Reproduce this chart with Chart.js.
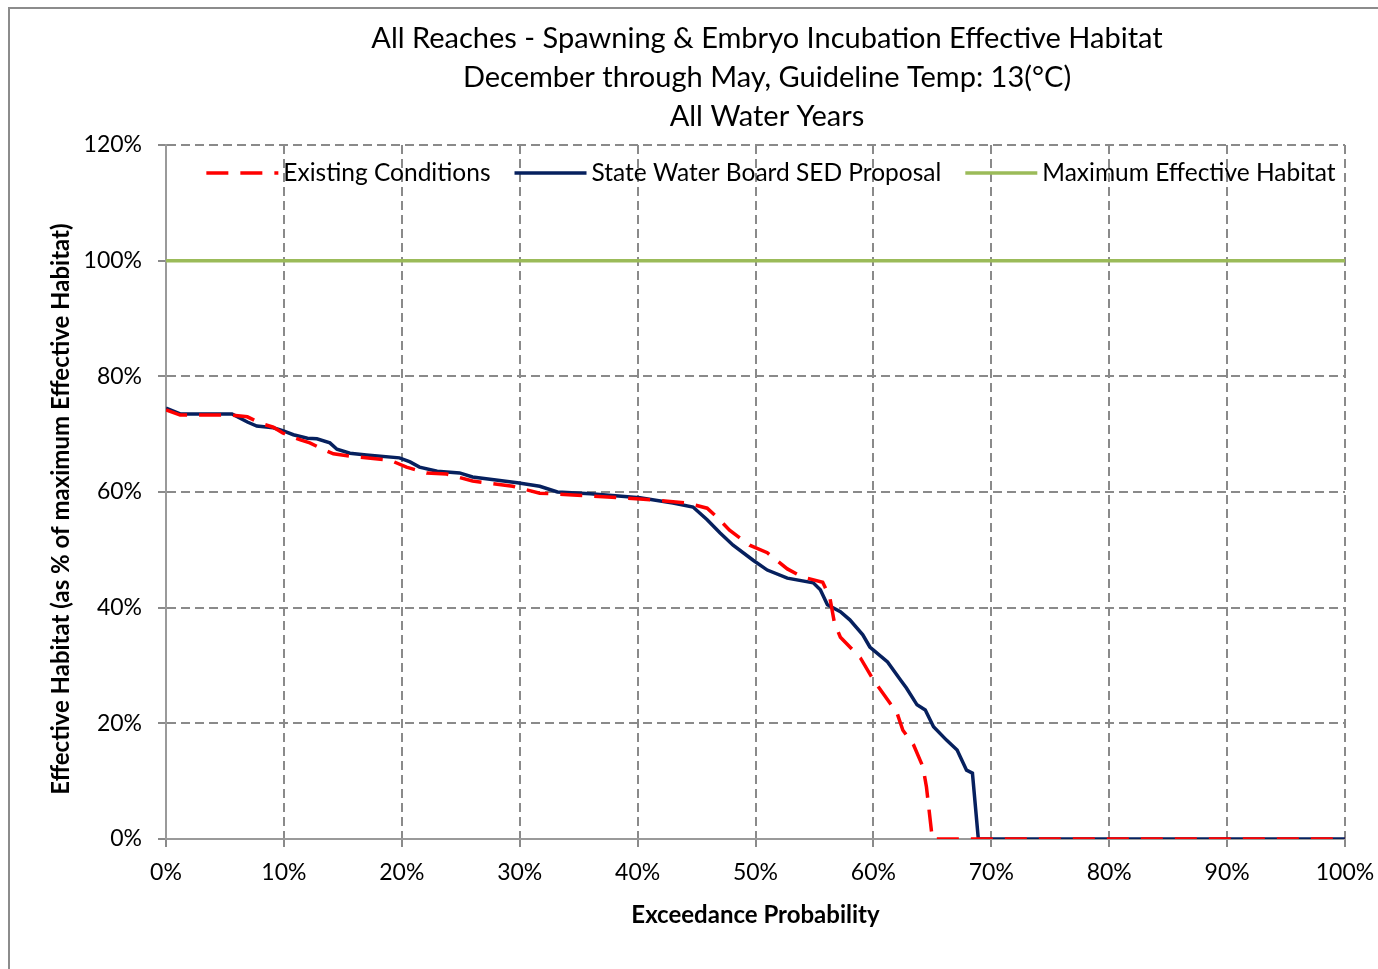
<!DOCTYPE html>
<html lang="en">
<head>
    <meta charset="UTF-8">
    <title>All Reaches - Spawning & Embryo Incubation Effective Habitat</title>
    <script src="https://cdn.jsdelivr.net/npm/chart.js@4.4.0/dist/chart.umd.min.js"></script>
    <style>
        body { margin: 0; background: #fff; }
        #wrap { position: relative; width: 1378px; height: 969px; }
    </style>
</head>
<body>
    <div id="wrap"><canvas id="habitat-chart"></canvas></div>

    <script>
        // Exceedance probability (%) and effective habitat (% of max)
        const existingX = [0, 1.2, 5.6, 6.9, 8, 9.1, 9.9, 11.4, 12.2, 13.3, 14.2, 15.6, 19, 20.4, 22.1, 23.8, 26, 29.4, 31.7, 34.5, 40.2, 44.2, 45.9, 46.7, 47.8, 49.5, 51, 51.8, 52.7, 54, 55.7, 56.3, 56.7, 57.2, 58.9, 60, 61.4, 62, 62.5, 63.4, 64.2, 64.5, 65, 100];
        const existingY = [74.2, 73.3, 73.3, 73, 71.9, 71.2, 70.2, 69, 68.5, 67.4, 66.6, 66.2, 65.5, 64.3, 63.3, 63.1, 61.9, 61, 59.8, 59.5, 58.8, 58.1, 57.2, 55.7, 53.4, 50.8, 49.5, 48.2, 46.7, 45.3, 44.4, 41.8, 37.3, 34.9, 31.3, 27.5, 23.5, 21.8, 18.8, 16.3, 12.5, 9, 0, 0];

        const sedX = [0, 1.2, 5.6, 6.9, 7.7, 9.1, 9.9, 10.8, 12, 12.8, 13.9, 14.5, 15.6, 17, 19.8, 20.7, 21.5, 23, 24.9, 26, 29.8, 31.7, 33.2, 36, 40.2, 43, 44.7, 45.9, 47, 48.1, 49.8, 51, 52.7, 54.9, 55.5, 56.1, 57.2, 58, 59.1, 59.7, 61.2, 62.3, 62.8, 63.7, 64.4, 65.1, 66.2, 67.1, 67.9, 68.4, 68.9, 100];
        const sedY = [74.5, 73.5, 73.5, 72.1, 71.4, 71.1, 70.6, 69.9, 69.3, 69.2, 68.5, 67.4, 66.7, 66.4, 65.9, 65.2, 64.3, 63.6, 63.3, 62.6, 61.6, 61, 60, 59.7, 59, 58.1, 57.4, 55.2, 52.9, 50.8, 48.2, 46.5, 45.1, 44.3, 43.1, 40.5, 39.3, 37.9, 35.3, 33.2, 30.6, 27.5, 26.1, 23.2, 22.3, 19.4, 17.1, 15.4, 11.9, 11.4, 0, 0];

        const maxX = [0, 100];
        const maxY = [100, 100];

        const seriesNames = ['Existing Conditions', 'State Water Board SED Proposal', 'Maximum Effective Habitat'];
        const titleLines = [
            'All Reaches - Spawning & Embryo Incubation Effective Habitat',
            'December through May, Guideline Temp: 13(\u00B0C)',
            'All Water Years'
        ];
        const xTitle = 'Exceedance Probability';
        const yTitle = 'Effective Habitat (as % of maximum Effective Habitat)';

        const FONT = 'Lato, "Open Sans", sans-serif';

        function toPoints(xs, ys) {
            return xs.map((x, i) => ({ x: x, y: ys[i] }));
        }

        // titles, axis titles, frame and the in-plot legend
        const decorations = {
            id: 'decorations',
            afterDraw(chart) {
                const ctx = chart.ctx;
                const area = chart.chartArea;
                ctx.save();

                // outer frame (only top and left edges are visible in the original)
                ctx.strokeStyle = '#8c8c8c';
                ctx.lineWidth = 2;
                ctx.beginPath();
                ctx.moveTo(9, 969);
                ctx.lineTo(9, 8);
                ctx.lineTo(1378, 8);
                ctx.stroke();

                ctx.fillStyle = '#000';
                ctx.textAlign = 'center';
                ctx.textBaseline = 'middle';
                ctx.font = '29px ' + FONT;
                titleLines.forEach((t, i) => ctx.fillText(t, 767, 39 + i * 39));

                ctx.font = 'bold 24px ' + FONT;
                ctx.fillText(xTitle, (area.left + area.right) / 2, 915);

                ctx.save();
                ctx.translate(61, 509);
                ctx.rotate(-Math.PI / 2);
                ctx.fillText(yTitle, 0, 0);
                ctx.restore();

                // legend
                ctx.font = '24.5px ' + FONT;
                const sample = 72, gap = 5, spacing = 24;
                const items = chart.data.datasets.map(ds => ({ ds: ds, w: ctx.measureText(ds.label).width }));
                const total = items.reduce((s, it) => s + sample + gap + it.w, 0) + spacing * (items.length - 1);
                let x = 771 - total / 2;
                const y = 173;
                ctx.textAlign = 'left';
                items.forEach(it => {
                    ctx.strokeStyle = it.ds.borderColor;
                    ctx.lineWidth = it.ds.borderWidth;
                    ctx.setLineDash(it.ds.borderDash || []);
                    ctx.beginPath();
                    ctx.moveTo(x, y);
                    ctx.lineTo(x + sample, y);
                    ctx.stroke();
                    ctx.setLineDash([]);
                    ctx.fillStyle = '#000';
                    ctx.fillText(it.ds.label, x + sample + gap, y);
                    x += sample + gap + it.w + spacing;
                });

                ctx.restore();
            }
        };

        const gridStyle = {
            color: '#8a8a8a',
            lineWidth: 2,
            tickLength: 8,
            tickColor: '#8a8a8a'
        };
        const borderStyle = { display: true, color: '#9a9a9a', width: 2, dash: [9, 5] };

        new Chart(document.getElementById('habitat-chart'), {
            type: 'line',
            data: {
                datasets: [
                    {
                        label: seriesNames[0],
                        data: toPoints(existingX, existingY),
                        borderColor: '#ff0000',
                        borderWidth: 3.5,
                        borderDash: [22, 12],
                        pointRadius: 0,
                        tension: 0
                    },
                    {
                        label: seriesNames[1],
                        data: toPoints(sedX, sedY),
                        borderColor: '#06205e',
                        borderWidth: 3.5,
                        pointRadius: 0,
                        tension: 0
                    },
                    {
                        label: seriesNames[2],
                        data: toPoints(maxX, maxY),
                        borderColor: '#9bbb59',
                        borderWidth: 3.5,
                        pointRadius: 0,
                        tension: 0
                    }
                ]
            },
            options: {
                responsive: true,
                maintainAspectRatio: false,
                animation: false,
                layout: { padding: { top: 145, right: 33, left: 0, bottom: 0 } },
                plugins: {
                    legend: { display: false },
                    title: { display: false },
                    tooltip: { enabled: false }
                },
                scales: {
                    x: {
                        type: 'linear',
                        min: 0,
                        max: 100,
                        grid: gridStyle,
                        border: borderStyle,
                        ticks: {
                            stepSize: 10,
                            padding: 12,
                            color: '#000',
                            font: { family: FONT, size: 23 },
                            maxRotation: 0,
                            callback: v => v + '%'
                        },
                        afterFit: scale => {
                            scale.height = 130;
                            scale.paddingLeft = 0;
                            scale.paddingRight = 0;
                        }
                    },
                    y: {
                        min: 0,
                        max: 120,
                        grid: gridStyle,
                        border: borderStyle,
                        ticks: {
                            stepSize: 20,
                            padding: 16,
                            color: '#000',
                            font: { family: FONT, size: 23 },
                            callback: v => v + '%'
                        },
                        afterFit: scale => {
                            scale.width = 166;
                            scale.paddingTop = 0;
                            scale.paddingBottom = 0;
                        }
                    }
                }
            },
            plugins: [decorations]
        });
    </script>
</body>
</html>
